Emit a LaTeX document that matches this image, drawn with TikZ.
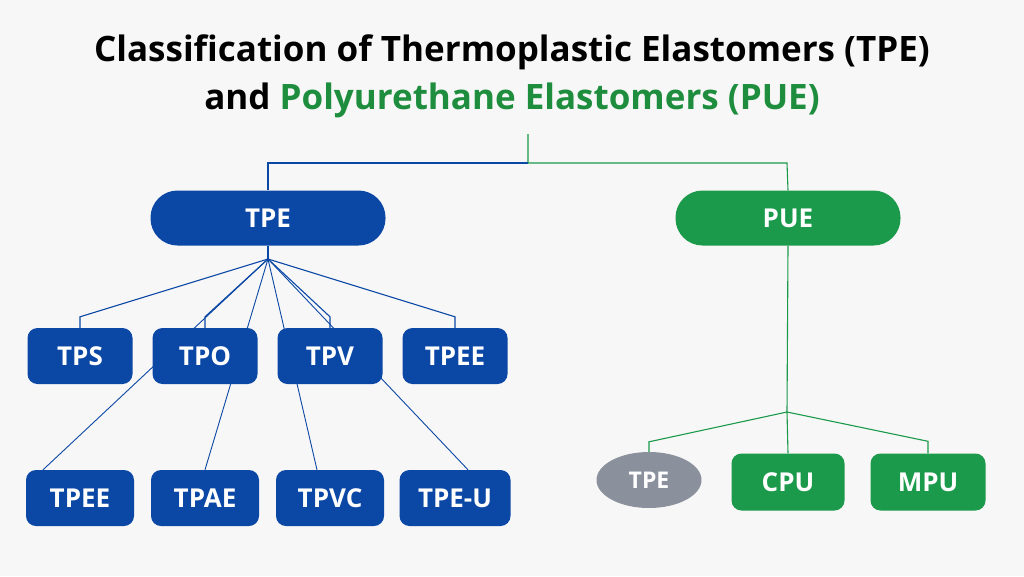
\documentclass[tikz,border=0pt]{standalone}
\usepackage{fontspec}
\setmainfont{Open Sans}
\usepackage{xcolor}
\usetikzlibrary{shapes.geometric,positioning,backgrounds}

\definecolor{tpeBlue}{HTML}{0B47A5}
\definecolor{pueGreen}{HTML}{1A9A4A}
\definecolor{titleGreen}{HTML}{1E8E3E}
\definecolor{tpeGray}{HTML}{8A909C}
\definecolor{bgGray}{HTML}{F7F7F7}

\begin{document}
\begin{tikzpicture}[x=1pt,y=-1pt,
    boxfont/.style={font=\bfseries\fontsize{26}{30}\selectfont,text=white},
    pill/.style={boxfont,rounded corners=27pt,minimum width=235pt,minimum height=55pt,inner sep=0pt},
    bluebox/.style={boxfont,fill=tpeBlue,rounded corners=10pt,minimum width=105pt,minimum height=56pt,inner sep=0pt},
    greenbox/.style={boxfont,fill=pueGreen,rounded corners=10pt,minimum width=113pt,minimum height=57pt,inner sep=0pt},
    blueline/.style={tpeBlue,line width=1.1pt},
    greenline/.style={pueGreen,line width=1.1pt}]
  \useasboundingbox (0,0) rectangle (1024,576);
  % title
  \node[font=\bfseries\fontsize{35}{40}\selectfont] (title1) at (512,52) {Classification of Thermoplastic Elastomers (TPE)};
  \node[font=\bfseries\fontsize{35}{40}\selectfont] (title2) at (512,100) {and \textcolor{titleGreen}{Polyurethane Elastomers (PUE)}};
  % main branches
  \node[pill,fill=tpeBlue] (tpe) at (268,218) {TPE};
  \node[pill,fill=pueGreen,minimum width=225pt] (pue) at (788,218) {PUE};
  % TPE families
  \node[bluebox] (tps) at (80,356) {TPS};
  \node[bluebox] (tpo) at (205,356) {TPO};
  \node[bluebox] (tpv) at (330,356) {TPV};
  \node[bluebox] (tpee) at (455,356) {TPEE};
  \node[bluebox,minimum width=108pt] (tpeeB) at (80,498) {TPEE};
  \node[bluebox,minimum width=108pt] (tpae) at (205,498) {TPAE};
  \node[bluebox,minimum width=108pt] (tpvc) at (330,498) {TPVC};
  \node[bluebox,minimum width=111pt] (tpeu) at (455,498) {TPE-U};
  % PUE families
  \node[ellipse,fill=tpeGray,boxfont,font=\bfseries\fontsize{23}{28}\selectfont,minimum width=105pt,minimum height=56pt,inner sep=0pt] (tpeG) at (649,480) {TPE};
  \node[greenbox] (cpu) at (788,482) {CPU};
  \node[greenbox,minimum width=115pt] (mpu) at (928,482) {MPU};
  % connectors
  \coordinate (topC) at (528,134);
  \coordinate (hubL) at (268,259);
  \coordinate (hubR) at (787,412);
  \begin{scope}[on background layer]
    \fill[bgGray] (0,0) rectangle (1024,576);
    \draw[greenline] (topC) -- (528,163) -- (787,163) -- (pue.north);
    \draw[blueline] (528,163) -- (268,163) -- (tpe.north);
    \draw[blueline] (tpe.south) -- (hubL);
    \draw[blueline] (hubL) -- ([yshift=11pt]tps.north) -- (tps.north);
    \draw[blueline] (hubL) -- ([yshift=11pt]tpo.north) -- (tpo.north);
    \draw[blueline] (hubL) -- ([yshift=11pt]tpv.north) -- (tpv.north);
    \draw[blueline] (hubL) -- ([yshift=11pt]tpee.north) -- (tpee.north);
    \draw[blueline,line width=0.9pt] (hubL) -- ([xshift=-37pt]tpeeB.north);
    \draw[blueline,line width=0.9pt] (hubL) -- (tpae.north);
    \draw[blueline,line width=0.9pt] (hubL) -- ([xshift=-13pt]tpvc.north);
    \draw[blueline,line width=0.9pt] (hubL) -- ([xshift=13pt]tpeu.north);
    \draw[greenline] (pue.south) -- (hubR) -- (cpu.north);
    \draw[greenline] (hubR) -- ([yshift=10pt]tpeG.north) -- (tpeG.north);
    \draw[greenline] (hubR) -- ([yshift=12pt]mpu.north) -- (mpu.north);
  \end{scope}
\end{tikzpicture}
\end{document}
